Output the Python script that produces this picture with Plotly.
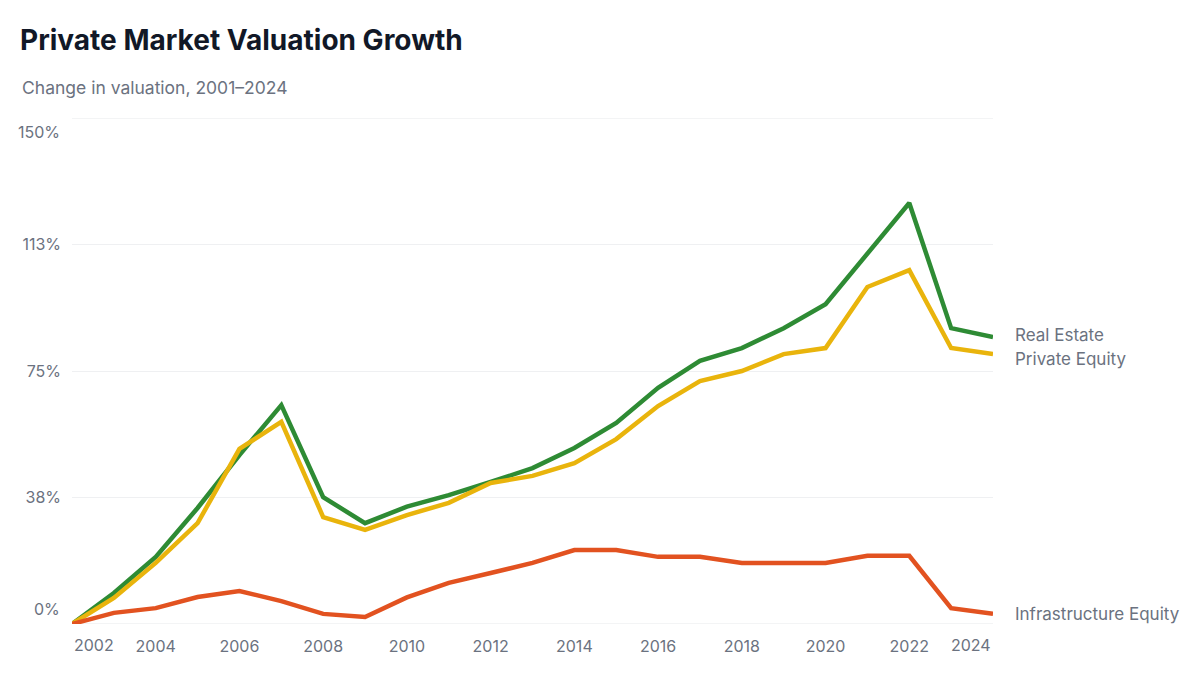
import plotly.graph_objects as go

# values, change in valuation (%)
years = list(range(2002, 2025))
real_estate = [0, 9.2, 19.9, 34.4, 50.1, 64.9, 37.6, 29.9, 34.8, 38.2, 42.1, 46.2,
               52.2, 59.6, 70.0, 78.0, 81.8, 87.7, 94.8, 110.0, 124.8, 87.7, 85.1]
private_equity = [0, 7.7, 18.1, 29.9, 51.9, 59.9, 31.7, 27.9, 32.3, 35.9, 41.8, 43.9,
                  47.7, 54.8, 64.6, 72.0, 75.0, 80.0, 81.8, 99.9, 104.9, 81.8, 80.0]
infrastructure = [0, 3.3, 4.7, 8.0, 9.8, 6.8, 3.0, 2.1, 7.9, 12.2, 15.1, 18.1,
                  21.9, 21.9, 19.9, 19.9, 18.1, 18.1, 18.1, 20.2, 20.2, 4.7, 3.0]

series = [
    ("Real Estate", real_estate, "#2e8b34", 2),
    ("Private Equity", private_equity, "#e9b40c", -5),
    ("Infrastructure Equity", infrastructure, "#e25220", 0),
]

y_ticks = [0, 37.5, 75, 112.5, 150]
y_labels = ["0%", "38%", "75%", "113%", "150%"]
x_ticks = list(range(2002, 2025, 2))

FONT = "Inter, 'Open Sans', sans-serif"
GREY = "#6b7280"
GRID = "#eff0f2"

# page has an 8px body margin, so the figure is a bit smaller than the window
W, H = 1184, 659
L, T, R, B = 64, 110, 199, 43
plot_w, plot_h = W - L - R, H - T - B

fig = go.Figure()

# plotly skips grid lines on the range ends, so draw those two by hand
for yv in (y_ticks[0], y_ticks[-1]):
    fig.add_shape(type="line", xref="paper", yref="y", x0=0, x1=1, y0=yv, y1=yv,
                  line=dict(color=GRID, width=1.5), layer="below")

for name, vals, color, _ in series:
    fig.add_trace(go.Scatter(
        x=years, y=vals, name=name, mode="lines",
        line=dict(color=color, width=4.5), cliponaxis=False,
        hovertemplate="%{x}: %{y:.1f}%<extra>" + name + "</extra>",
    ))

annotations = []
# series labels at line ends
for name, vals, color, shift in series:
    annotations.append(dict(
        x=years[-1], y=vals[-1], xref="x", yref="y", text=name,
        showarrow=False, xanchor="left", yanchor="middle", xshift=20, yshift=shift,
        font=dict(family=FONT, size=17, color=GREY),
    ))

# end tick labels, kept inside the plot width / height
annotations += [
    dict(x=x_ticks[0], y=0, xref="x", yref="paper", text=str(x_ticks[0]), showarrow=False,
         xanchor="left", yanchor="top", yshift=-9, font=dict(family=FONT, size=16, color=GREY)),
    dict(x=x_ticks[-1], y=0, xref="x", yref="paper", text=str(x_ticks[-1]), showarrow=False,
         xanchor="right", yanchor="top", yshift=-9, font=dict(family=FONT, size=16, color=GREY)),
    dict(x=0, y=y_ticks[-1], xref="paper", yref="y", text=y_labels[-1], showarrow=False,
         xanchor="right", yanchor="top", xshift=-10, yshift=-2, font=dict(family=FONT, size=16, color=GREY)),
    dict(x=0, y=y_ticks[0], xref="paper", yref="y", text=y_labels[0], showarrow=False,
         xanchor="right", yanchor="bottom", xshift=-10, yshift=3, font=dict(family=FONT, size=16, color=GREY)),
    dict(x=(12 - L) / plot_w, y=(H - B - 80) / plot_h, xref="paper", yref="paper",
         text="Change in valuation, 2001–2024", showarrow=False, xanchor="left", yanchor="middle",
         font=dict(family=FONT, size=17.5, color=GREY)),
]

fig.update_layout(
    width=W, height=H,
    paper_bgcolor="white", plot_bgcolor="white",
    margin=dict(l=L, r=R, t=T, b=B),
    showlegend=False,
    font=dict(family=FONT, size=16, color=GREY),
    title=dict(text="<b>Private Market Valuation Growth</b>", xref="container", yref="container",
               x=12 / W, y=1 - 32 / H, xanchor="left", yanchor="middle",
               font=dict(family=FONT, size=28, color="#111827")),
    annotations=annotations,
)

fig.update_xaxes(range=[2002, 2024], tickvals=x_ticks[1:-1], ticks="", showgrid=False,
                 zeroline=False, showline=False, ticklabelstandoff=11, automargin=False,
                 tickfont=dict(family=FONT, size=16, color=GREY))
fig.update_yaxes(range=[0, 150], tickvals=y_ticks, ticktext=["", y_labels[1], y_labels[2], y_labels[3], ""],
                 ticks="", showgrid=True, gridcolor=GRID, gridwidth=1, zeroline=False,
                 showline=False, ticklabelstandoff=10, automargin=False,
                 tickfont=dict(family=FONT, size=16, color=GREY))

fig.write_html("out.html")
